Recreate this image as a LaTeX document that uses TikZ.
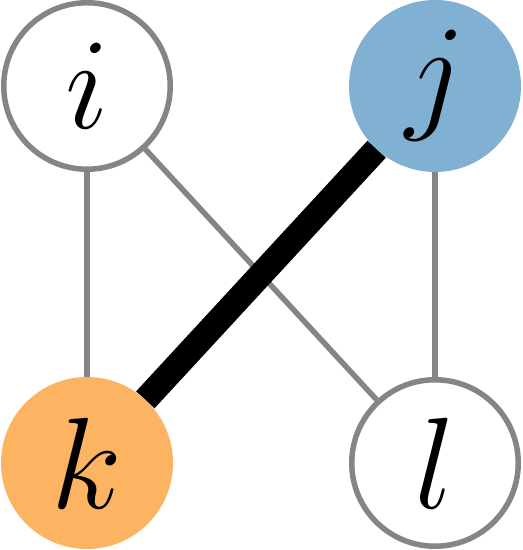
\documentclass[tikz,border=0pt]{standalone}
\usepackage{fix-cm}
\usepackage{tikz}
\usetikzlibrary{positioning, backgrounds}
\definecolor{setblue}{HTML}{80B1D3}
\definecolor{setorange}{HTML}{FDB462}
\definecolor{edgegray}{HTML}{858585}

\begin{document}
\begin{tikzpicture}[
  node distance=4.1cm and 3.52cm,
  vertex/.style={circle, draw=edgegray, fill=white, line width=0.11cm,
                 minimum size=3.33cm, inner sep=0pt, font=\fontsize{74}{86}\selectfont},
  link/.style={draw=edgegray, line width=0.11cm},
  heavy/.style={draw=black, line width=0.5cm}]

  \useasboundingbox (0,0) rectangle (10.44,11);

  \node[vertex] (i) at (1.74,9.28) {$i$};
  \node[vertex, draw=setblue, fill=setblue, right=of i] (j) {$j$};
  \node[vertex, draw=setorange, fill=setorange, below=of i] (k) {$k$};
  \node[vertex, below=of j] (l) {$l$};

  \begin{scope}[on background layer]
    \draw[link] (i) -- (k);
    \draw[link] (i) -- (l);
    \draw[link] (j) -- (l);
    \draw[heavy] (j) -- (k);
  \end{scope}
\end{tikzpicture}
\end{document}
